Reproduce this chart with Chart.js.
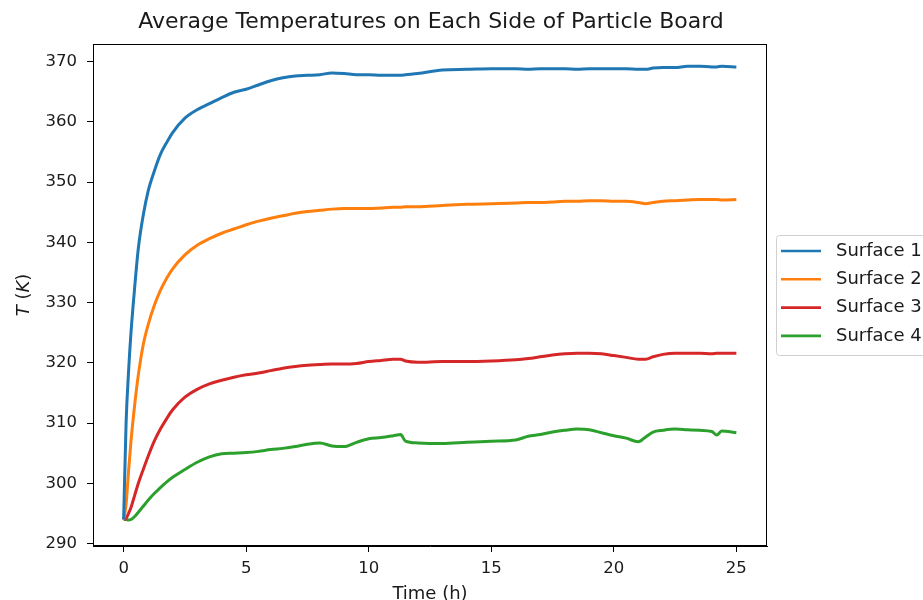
<!doctype html>
<html>

<head>
    <title>Average Temperatures</title>
    <script src="https://cdn.jsdelivr.net/npm/chart.js"></script>
    <style>
        body { margin: 0; background: #fff; }
    </style>
</head>

<body>
    <canvas id="grafico" width="923" height="600"></canvas>

    <script>
        // tempo em horas (amostras)
        var tempos = [0, 0.1, 0.2, 0.3, 0.45, 0.6, 0.8, 1.0, 1.25, 1.5, 1.75, 2.0, 2.5, 3.0, 3.5, 4.0, 4.5, 5.0, 5.5, 6.0,
            6.5, 7.0, 7.5, 8.0, 8.5, 9.0, 9.5, 10.0, 10.5, 11.0, 11.3, 11.5, 12.0, 13.0, 14.0, 15.0, 16.0, 16.5, 17.0,
            17.5, 18.0, 18.5, 19.0, 19.5, 20.0, 20.5, 21.0, 21.3, 21.6, 22.0, 22.5, 23.0, 23.5, 24.0, 24.2, 24.4, 25.0];

        var superficie1 = [294, 310, 318.5, 325, 332.5, 339, 344.5, 348.5, 351.8, 354.6, 356.5, 358.2, 360.6, 362.0, 363.0, 364.0,
            364.9, 365.4, 366.1, 366.8, 367.3, 367.6, 367.7, 367.8, 368.1, 368.0, 367.8, 367.8, 367.7, 367.7, 367.7, 367.8,
            368.0, 368.6, 368.7, 368.8, 368.8, 368.7, 368.8, 368.8, 368.8, 368.7, 368.8, 368.8, 368.8, 368.8, 368.7, 368.7,
            368.9, 369.0, 369.0, 369.2, 369.2, 369.1, 369.1, 369.2, 369.1];

        var superficie2 = [294, 296.5, 302, 307, 313, 318, 323, 326.3, 329.5, 332, 334, 335.6, 337.9, 339.5, 340.6, 341.5,
            342.2, 342.9, 343.5, 344.0, 344.4, 344.8, 345.1, 345.3, 345.5, 345.6, 345.6, 345.6, 345.7, 345.8, 345.8, 345.9,
            345.9, 346.1, 346.3, 346.4, 346.5, 346.6, 346.6, 346.7, 346.8, 346.8, 346.9, 346.9, 346.8, 346.8, 346.6, 346.4,
            346.6, 346.8, 346.9, 347.0, 347.1, 347.1, 347.1, 347.0, 347.1];

        var superficie3 = [294, 294.2, 295, 296, 298, 300, 302.3, 304.5, 307, 309, 310.7, 312.2, 314.3, 315.6, 316.5, 317.1,
            317.6, 318.0, 318.3, 318.7, 319.1, 319.4, 319.6, 319.7, 319.8, 319.8, 319.9, 320.2, 320.4, 320.6, 320.6, 320.3,
            320.1, 320.2, 320.2, 320.3, 320.5, 320.7, 321.0, 321.3, 321.5, 321.6, 321.6, 321.5, 321.2, 320.9, 320.6, 320.6,
            321.0, 321.4, 321.6, 321.6, 321.6, 321.5, 321.6, 321.6, 321.6];

        var superficie4 = [294, 294, 293.9, 294.0, 294.5, 295.2, 296.2, 297.2, 298.3, 299.3, 300.2, 301.0, 302.3, 303.5, 304.4,
            304.9, 305.0, 305.1, 305.3, 305.6, 305.8, 306.1, 306.5, 306.7, 306.2, 306.1, 306.8, 307.4, 307.6, 307.9, 308.1,
            307.0, 306.7, 306.6, 306.8, 307.0, 307.2, 307.8, 308.1, 308.5, 308.8, 309.0, 308.9, 308.4, 307.9, 307.5, 306.9,
            307.7, 308.5, 308.8, 309.0, 308.9, 308.8, 308.6, 308.0, 308.7, 308.4];

        var nomes = ['Surface 1', 'Surface 2', 'Surface 3', 'Surface 4'];
        var cores = ['#1f77b4', '#ff7f0e', '#d62728', '#2ca02c'];
        var series = [superficie1, superficie2, superficie3, superficie4];

        var titulo = 'Average Temperatures on Each Side of Particle Board';
        var fonte = '"DejaVu Sans", sans-serif';
        var corTexto = '#1a1a1a';

        function pontos(valores) {
            return valores.map(function (v, i) {
                return { x: tempos[i], y: v };
            });
        }

        // titulo, moldura, rotulo do eixo Y e legenda (fora da area do grafico)
        var extras = {
            id: 'extras',
            afterDraw: function (chart) {
                var ctx = chart.ctx;
                var a = chart.chartArea;
                ctx.save();

                // moldura completa
                ctx.strokeStyle = '#000';
                ctx.lineWidth = 1;
                ctx.strokeRect(a.left + 0.5, a.top + 0.5, a.right - a.left - 1, a.bottom - a.top - 1);

                // titulo
                ctx.fillStyle = corTexto;
                ctx.font = '22px ' + fonte;
                ctx.textAlign = 'center';
                ctx.textBaseline = 'middle';
                ctx.fillText(titulo, 431, 22);

                // rotulo Y: T (K) com T e K em italico
                ctx.translate(24, (a.top + a.bottom) / 2);
                ctx.rotate(-Math.PI / 2);
                var partes = [['T', 'italic '], [' (', ''], ['K', 'italic '], [')', '']];
                var total = 0;
                partes.forEach(function (p) {
                    ctx.font = p[1] + '18px ' + fonte;
                    total += ctx.measureText(p[0]).width;
                });
                var x = -total / 2;
                ctx.textAlign = 'left';
                partes.forEach(function (p) {
                    ctx.font = p[1] + '18px ' + fonte;
                    ctx.fillText(p[0], x, 0);
                    x += ctx.measureText(p[0]).width;
                });
                ctx.restore();

                // legenda
                ctx.save();
                ctx.fillStyle = 'rgba(255,255,255,0.8)';
                ctx.strokeStyle = '#d0d0d0';
                ctx.lineWidth = 1;
                ctx.beginPath();
                ctx.roundRect(776.5, 235.5, 160, 120, 3);
                ctx.fill();
                ctx.stroke();
                ctx.font = '18px ' + fonte;
                ctx.textAlign = 'left';
                ctx.textBaseline = 'middle';
                nomes.forEach(function (nome, i) {
                    var y = 251 + i * 28.3;
                    ctx.strokeStyle = cores[i];
                    ctx.lineWidth = 2.6;
                    ctx.beginPath();
                    ctx.moveTo(781, y);
                    ctx.lineTo(821, y);
                    ctx.stroke();
                    ctx.fillStyle = corTexto;
                    ctx.fillText(nome, 836, y);
                });
                ctx.restore();
            }
        };

        var grafico = new Chart(document.getElementById('grafico').getContext('2d'), {
            type: 'line',
            data: {
                datasets: series.map(function (s, i) {
                    return {
                        label: nomes[i],
                        data: pontos(s),
                        borderColor: cores[i],
                        backgroundColor: cores[i],
                        borderWidth: 3,
                        pointRadius: 0,
                        cubicInterpolationMode: 'monotone'
                    };
                })
            },
            options: {
                responsive: false,
                animation: false,
                devicePixelRatio: 1,
                layout: {
                    padding: { left: 0, right: 156, top: 44, bottom: 0 }
                },
                plugins: {
                    legend: { display: false },
                    title: { display: false },
                    tooltip: { enabled: false }
                },
                scales: {
                    x: {
                        type: 'linear',
                        min: -1.25,
                        max: 26.25,
                        afterFit: function (scale) { scale.height = 54; },
                        grid: {
                            drawOnChartArea: false,
                            tickLength: 6,
                            tickColor: '#000'
                        },
                        border: { color: '#000', width: 1 },
                        ticks: {
                            stepSize: 5,
                            includeBounds: false,
                            autoSkip: false,
                            maxRotation: 0,
                            padding: 7,
                            color: corTexto,
                            font: { family: fonte, size: 16.5 }
                        },
                        title: {
                            display: true,
                            text: 'Time (h)',
                            color: corTexto,
                            padding: { top: 0, bottom: -5 },
                            font: { family: fonte, size: 18 }
                        }
                    },
                    y: {
                        min: 289.6,
                        max: 372.9,
                        afterFit: function (scale) { scale.width = 93; },
                        grid: {
                            drawOnChartArea: false,
                            tickLength: 6,
                            tickColor: '#000'
                        },
                        border: { color: '#000', width: 1 },
                        ticks: {
                            stepSize: 10,
                            includeBounds: false,
                            autoSkip: false,
                            padding: 10,
                            color: corTexto,
                            font: { family: fonte, size: 16.5 }
                        }
                    }
                }
            },
            plugins: [extras]
        });
    </script>
</body>

</html>
